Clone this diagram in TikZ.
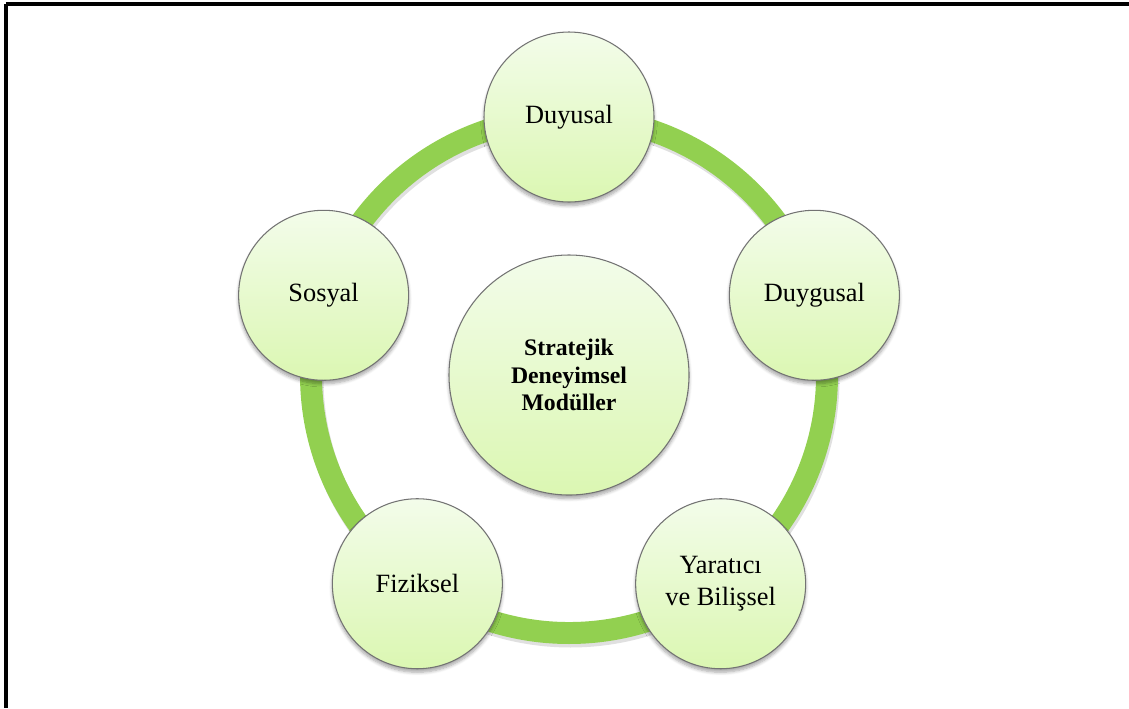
\documentclass[tikz,border=0pt]{standalone}
\usepackage{fontspec}
\setmainfont{Liberation Serif}
\usepackage{xcolor}
\usepackage{tikz}
\usetikzlibrary{calc,shadows.blur}

\definecolor{ringgreen}{RGB}{146,208,80}
\definecolor{bubbletop}{RGB}{243,252,234}
\definecolor{bubblebot}{RGB}{219,247,178}

\begin{document}
\begin{tikzpicture}[
  bubble/.style={circle,draw=black!55,line width=0.6pt,
                 top color=bubbletop,bottom color=bubblebot,
                 minimum size=3.4cm,inner sep=0pt,align=center,
                 font=\fontsize{15}{18}\selectfont,
                 blur shadow={shadow blur steps=6,shadow xshift=0pt,
                              shadow yshift=-2pt,shadow opacity=35}},
  hubbubble/.style={bubble,minimum size=4.8cm,
                 font=\fontsize{13.5}{15.5}\selectfont\bfseries},
  ring/.style={draw=ringgreen,line width=12.5pt}]
\useasboundingbox (0,0) rectangle (22.58,-14.16);
% frame (top and left edges only)
\draw[line width=2.2pt] (0.12,-0.08) -- (22.58,-0.08);
\draw[line width=2.2pt] (0.12,-0.08) -- (0.12,-14.16);

\coordinate (mid) at (11.38,-7.5);
% ring behind the bubbles
\draw[black!12,line width=12.5pt] ($(mid)+(0.03,-0.07)$) circle[radius=5.16cm];
\draw[ring] (mid) circle[radius=5.16cm];

\node[hubbubble] (hub) at (mid) {Stratejik\\Deneyimsel\\Modüller};
\node[bubble] (duyusal) at ($(mid)+(90:5.16)$) {Duyusal};
\node[bubble] (duygusal) at ($(mid)+(18:5.16)$) {Duygusal};
\node[bubble] (yaratici) at ($(mid)+(-54:5.16)$) {Yaratıcı\\ve Bilişsel};
\node[bubble] (fiziksel) at ($(mid)+(-126:5.16)$) {Fiziksel};
\node[bubble] (sosyal) at ($(mid)+(162:5.16)$) {Sosyal};
\end{tikzpicture}
\end{document}
